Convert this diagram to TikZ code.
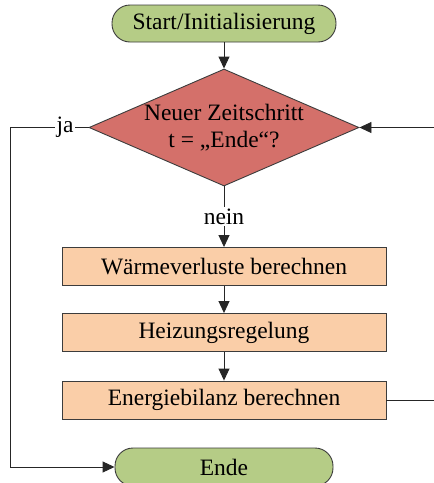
\documentclass[tikz,border=0pt]{standalone}
\usepackage{fontspec}
\setmainfont{Liberation Serif}
\usetikzlibrary{shapes.geometric,arrows.meta}
\definecolor{termgreen}{RGB}{181,204,134}
\definecolor{decred}{RGB}{212,112,106}
\definecolor{procorange}{RGB}{250,206,168}
\definecolor{edgegray}{RGB}{60,60,60}
\tikzset{
  terminal/.style={draw=edgegray, line width=0.9pt, fill=termgreen, rectangle, rounded corners=18pt, minimum height=37pt, inner sep=0pt},
  process/.style={draw=edgegray, line width=0.9pt, fill=procorange, rectangle, minimum width=324pt, minimum height=38pt, inner sep=0pt},
  decision/.style={draw=edgegray, line width=0.9pt, fill=decred, diamond, minimum width=270pt, minimum height=117pt, inner sep=0pt},
  flow/.style={draw=black!85, line width=0.9pt},
  flowarrow/.style={flow, -{Triangle[length=12pt,width=11pt]}},
  lbl/.style={fill=white, inner sep=1.5pt},
}
\begin{document}
\begin{tikzpicture}[x=1pt,y=-1pt,font=\fontsize{23.5}{27}\selectfont]
\useasboundingbox (0,0) rectangle (434,483);
\node[terminal, minimum width=224pt] (start) at (224,23.5) {Start/Initialisierung};
\node[decision] (dec) at (224,127.5) {};
\node[align=center] (dectext) at (224,127.5) {Neuer Zeitschritt\\t = „Ende“?};
\node[process] (p1) at (224,266.5) {Wärmeverluste berechnen};
\node[process] (p2) at (224,332.5) {Heizungsregelung};
\node[process] (p3) at (224,400) {Energiebilanz berechnen};
\node[terminal, minimum width=218pt, minimum height=38pt] (ende) at (224,467) {Ende};
\coordinate (leftc) at (10,127.5);
\coordinate (leftb) at (10,467);
\coordinate (rightin) at (434,127.5);
\coordinate (rightout) at (434,400);
\draw[flowarrow] (start) -- (dec);
\draw[flowarrow] (dec.south) -- node[lbl, pos=0.5] {nein} (p1);
\draw[flowarrow] (p1) -- (p2);
\draw[flowarrow] (p2) -- (p3);
\draw[flowarrow] (dec.west) -- node[lbl, pos=0.3] {ja} (leftc) -- (leftb) -- (ende.west);
\draw[flowarrow] (rightin) -- (dec.east);
\draw[flow] (p3.east) -- (rightout);
\end{tikzpicture}
\end{document}
